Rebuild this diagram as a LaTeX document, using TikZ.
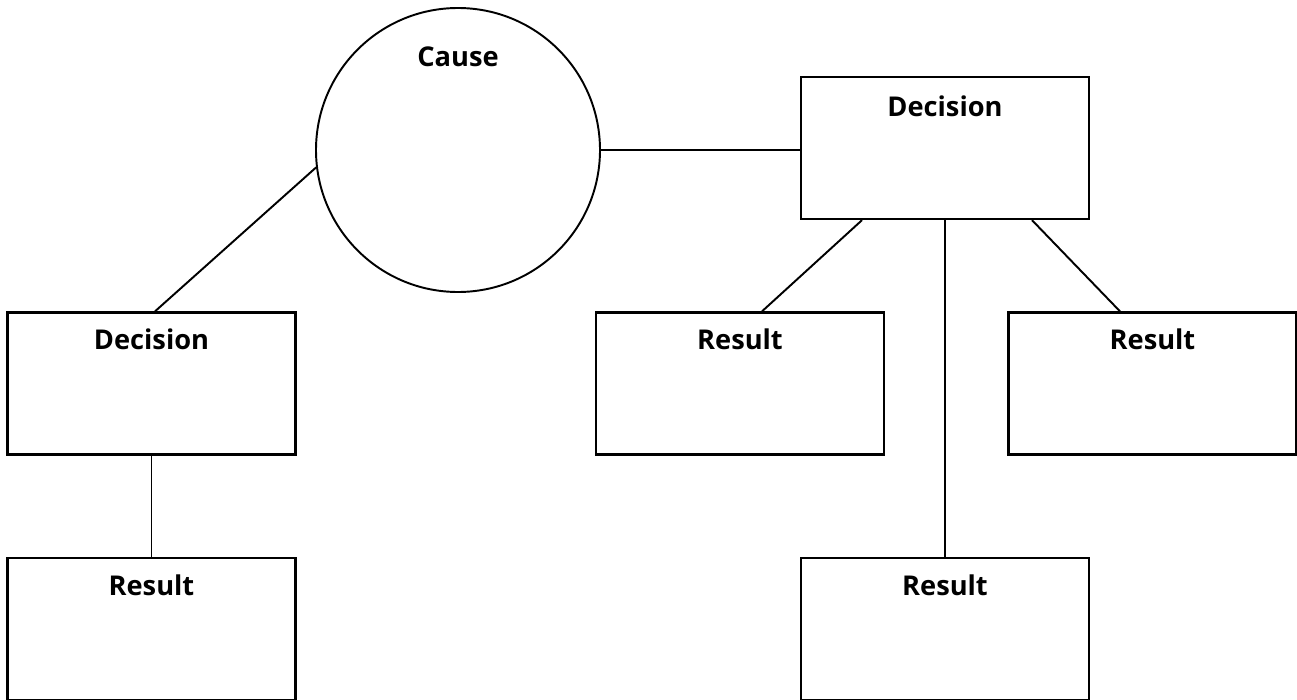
\documentclass[tikz,border=0pt]{standalone}
\usepackage{fontspec}
\setmainfont{Open Sans}
\usepackage{tikz}
\usetikzlibrary{positioning}
\tikzset{
	box/.style={rectangle,draw=black,line width=1.3pt,minimum width=5.76cm,minimum height=2.84cm,inner sep=0pt},
	causa/.style={circle,draw=black,line width=1.1pt,minimum size=5.68cm,inner sep=0pt},
	titolo/.style={inner sep=1pt,font=\fontsize{15.5}{18}\selectfont\bfseries},
	link/.style={-,black,line width=1.1pt},
	}
\begin{document}
\begin{tikzpicture}
\useasboundingbox (0,0) rectangle (25.94,-14);
%NODI
\node[causa] (cause) at (9.16,-3.0) {};
\node[box] (d1) at (18.9,-2.96) {};
\node[box] (d0) at (3.03,-7.67) {};
\node[box] (r1) at (14.8,-7.67) {};
\node[box] (r2) at (23.05,-7.67) {};
\node[box] (r0) at (3.03,-12.58) {};
\node[box] (r3) at (18.9,-12.58) {};
%TITOLI
\node[titolo] (tcause) at ([yshift=1.86cm]cause.center) {Cause};
\node[titolo] (td1) at ([yshift=-0.6cm]d1.north) {Decision};
\node[titolo] (td0) at ([yshift=-0.56cm]d0.north) {Decision};
\node[titolo] (tr1) at ([yshift=-0.56cm]r1.north) {Result};
\node[titolo] (tr2) at ([yshift=-0.56cm]r2.north) {Result};
\node[titolo] (tr0) at ([yshift=-0.56cm]r0.north) {Result};
\node[titolo] (tr3) at ([yshift=-0.56cm]r3.north) {Result};
%LINEE
\draw[link] (cause.east) -- (d1.west |- cause.east);
\draw[link] (cause.187) -- ([xshift=0.07cm]d0.north);
\draw[link] (d0.south) -- (r0.north);
\draw[link] ([xshift=-1.66cm]d1.south) -- ([xshift=0.44cm]r1.north);
\draw[link] (d1.south) -- (r3.north);
\draw[link] ([xshift=1.74cm]d1.south) -- ([xshift=-0.65cm]r2.north);
\end{tikzpicture}
\end{document}
